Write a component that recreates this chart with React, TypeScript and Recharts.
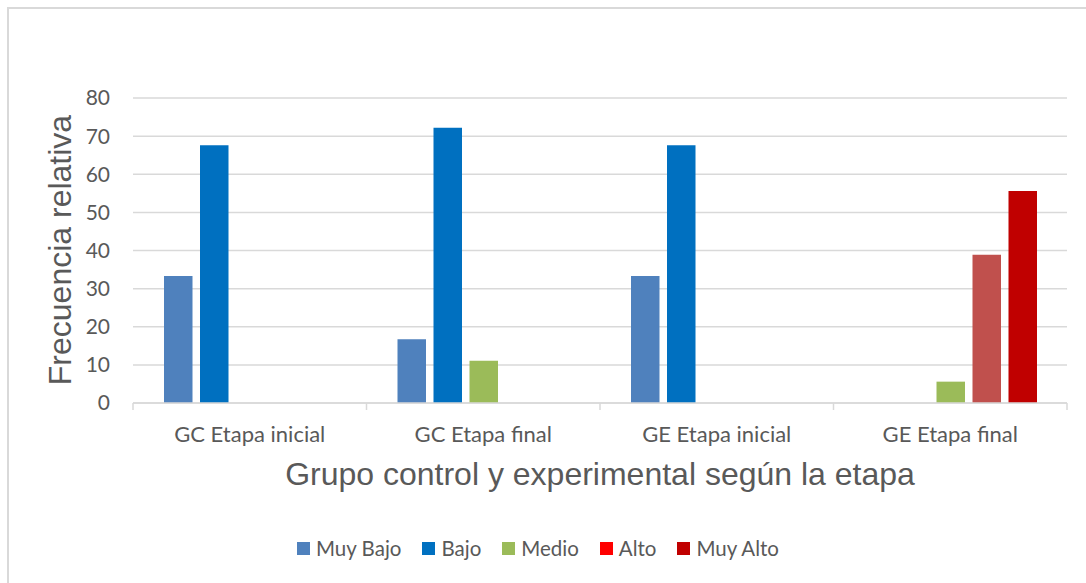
import React from "react"
import { BarChart, Bar, XAxis, YAxis, CartesianGrid } from "recharts"

const categories = ["GC Etapa inicial", "GC Etapa final", "GE Etapa inicial", "GE Etapa final"]
const seriesNames = ["Muy Bajo", "Bajo", "Medio", "Alto", "Muy Alto"]
const muyBajo = [33.3, 16.7, 33.3, 0]
const bajo = [67.6, 72.2, 67.6, 0]
const medio = [0, 11.1, 0, 5.6]
const alto = [0, 0, 0, 38.9]
const muyAlto = [0, 0, 0, 55.6]
const barColors = ["#4F81BD", "#0070C0", "#9BBB59", "#C0504D", "#C00000"]
const legendColors = ["#4F81BD", "#0070C0", "#9BBB59", "#FF0000", "#C00000"]
const yTicks = [0, 10, 20, 30, 40, 50, 60, 70, 80]

const values = [muyBajo, bajo, medio, alto, muyAlto]
const data = categories.map((c, i) => {
  const row: Record<string, string | number> = { cat: c }
  seriesNames.forEach((s, j) => {
    row[s] = values[j][i]
  })
  return row
})

const textColor = "#595959"
const gridColor = "#D9D9D9"
const tickFont = "Lato, 'Open Sans', sans-serif"
const titleFont = "'Liberation Sans', Arial, sans-serif"
const xTickMargin = 23

// category label plus the small divider ticks Excel draws between categories
function CategoryTick(props: any) {
  const { x, y, payload, index, visibleTicksCount, width } = props
  const band = width / visibleTicksCount
  const axisY = y - xTickMargin
  const last = index === visibleTicksCount - 1
  return (
    <g>
      <line x1={x - band / 2} x2={x - band / 2} y1={axisY} y2={axisY + 7} stroke={gridColor} strokeWidth={1.5} />
      {last && (
        <line x1={x + band / 2} x2={x + band / 2} y1={axisY} y2={axisY + 7} stroke={gridColor} strokeWidth={1.5} />
      )}
      <text x={x} y={y} dy="0.71em" textAnchor="middle" fill={textColor} fontSize={22} fontFamily={tickFont}>
        {payload.value}
      </text>
    </g>
  )
}

export default function App() {
  return (
    <div style={{ position: "absolute", left: 0, top: 0, width: 1086, height: 583, background: "#fff", overflow: "hidden" }}>
      <div
        style={{
          position: "absolute",
          left: 7,
          top: 7,
          width: 1100,
          height: 600,
          borderLeft: `2px solid ${gridColor}`,
          borderTop: `2px solid ${gridColor}`,
        }}
      />
      <BarChart
        width={1086}
        height={583}
        data={data}
        margin={{ top: 98, right: 19, bottom: 0, left: 0 }}
        barSize={28.5}
        barGap={7.5}
      >
        <CartesianGrid vertical={false} stroke={gridColor} strokeWidth={1.5} />
        <XAxis
          dataKey="cat"
          height={180}
          axisLine={{ stroke: gridColor, strokeWidth: 1.5 }}
          tickLine={false}
          tickSize={0}
          tickMargin={xTickMargin}
          tick={<CategoryTick />}
        />
        <YAxis
          width={133}
          domain={[0, 80]}
          ticks={yTicks}
          axisLine={false}
          tickLine={false}
          tickSize={0}
          tickMargin={23}
          tick={{ fill: textColor, fontSize: 21, fontFamily: tickFont }}
        />
        {seriesNames.map((s, i) => (
          <Bar key={s} dataKey={s} fill={barColors[i]} isAnimationActive={false} />
        ))}
      </BarChart>
      <div
        style={{
          position: "absolute",
          left: 60,
          top: 250,
          transform: "translate(-50%, -50%) rotate(-90deg)",
          whiteSpace: "nowrap",
          fontFamily: titleFont,
          fontSize: 32,
          color: textColor,
        }}
      >
        Frecuencia relativa
      </div>
      <div
        style={{
          position: "absolute",
          left: 600,
          top: 474,
          transform: "translate(-50%, -50%)",
          whiteSpace: "nowrap",
          fontFamily: titleFont,
          fontSize: 32,
          color: textColor,
        }}
      >
        Grupo control y experimental según la etapa
      </div>
      <div
        style={{
          position: "absolute",
          left: 0,
          top: 536,
          width: 1076,
          display: "flex",
          justifyContent: "center",
          fontFamily: tickFont,
          fontSize: 20.5,
          color: textColor,
          lineHeight: "24px",
        }}
      >
        {seriesNames.map((s, i) => (
          <div key={s} style={{ display: "flex", alignItems: "center", marginRight: i < seriesNames.length - 1 ? 21 : 0 }}>
            <span style={{ width: 13, height: 13, background: legendColors[i], marginRight: 6, display: "inline-block" }} />
            <span>{s}</span>
          </div>
        ))}
      </div>
    </div>
  )
}
